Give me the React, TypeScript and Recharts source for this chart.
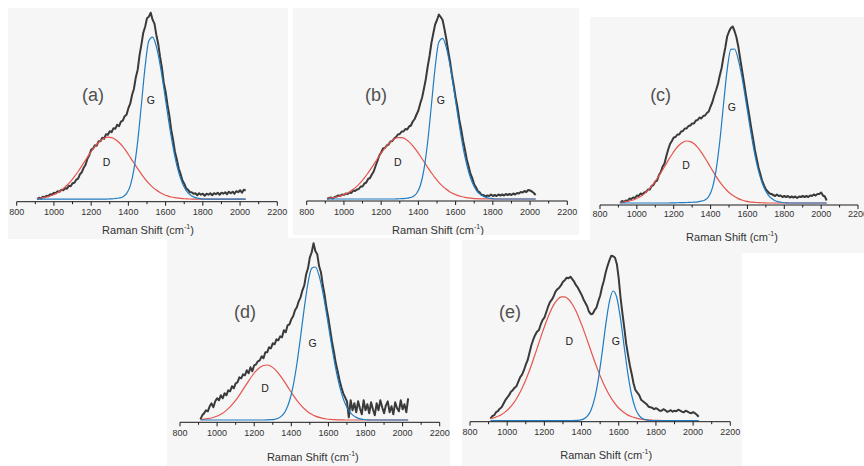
import React from 'react';
import { ComposedChart, Line, XAxis, YAxis, ReferenceDot } from 'recharts';

// Raman shift grid of the fitted bands (cm-1)
const RAMAN_SHIFT = [910,930,950,970,990,1010,1030,1050,1070,1090,1110,1130,1150,1170,1190,1210,1230,1250,1270,1290,1310,1330,1350,1370,1390,1410,1430,1450,1470,1490,1510,1530,1550,1570,1590,1610,1630,1650,1670,1690,1710,1730,1750,1770,1790,1810,1830,1850,1870,1890,1910,1930,1950,1970,1990,2010,2030];

// Raman shift grid of the measured spectra (cm-1)
const SPEC_SHIFT = [
  910,920,930,940,950,960,970,980,990,1000,
  1010,1020,1030,1040,1050,1060,1070,1080,1090,1100,
  1110,1120,1130,1140,1150,1160,1170,1180,1190,1200,
  1210,1220,1230,1240,1250,1260,1270,1280,1290,1300,
  1310,1320,1330,1340,1350,1360,1370,1380,1390,1400,
  1410,1420,1430,1440,1450,1460,1470,1480,1490,1500,
  1510,1520,1530,1540,1550,1560,1570,1580,1590,1600,
  1610,1620,1630,1640,1650,1660,1670,1680,1690,1700,
  1710,1720,1730,1740,1750,1760,1770,1780,1790,1800,
  1810,1820,1830,1840,1850,1860,1870,1880,1890,1900,
  1910,1920,1930,1940,1950,1960,1970,1980,1990,2000,
  2010,2020,2030];

const X_TICKS = [800,900,1000,1100,1200,1300,1400,1500,1600,1700,1800,1900,2000,2100,2200];
const PANEL_TAGS = ['(a)', '(b)', '(c)', '(d)', '(e)'];
const BAND_LABELS = ['D', 'G'];

// (a)
const SPEC_A = [
  2.5,4,3,5,4.5,6,5.5,7.5,7,9,
  8.5,10.5,10,12,11.5,13.5,13,16,15.5,18.5,
  19,22,23,27.5,29.5,34,37,43,46.5,52,
  53,56.5,56,60.5,60.5,64,63,67.5,67,70.5,
  69.5,73.5,73,77,75.5,80,81,85.5,87,93.5,
  98,107,113,124.5,132,146.5,157,169,175,183.5,
  185,189,182,178,167,158,145,134,119,110,
  97,86,72,62,50,42.5,33.5,28,21.5,18,
  13.5,12,9.5,9.5,8,8.5,6.5,8.5,7,8,
  6,8,7,8.5,6.5,8.5,7.5,9,7,9,
  8,9.5,7.5,10,8.5,10,8,10.5,9.5,11.5,
  9,12,11];
const FIT_D_A = [3.3,3.7,4.3,5.2,6.5,8.1,10.3,13,16.4,20.4, 25,30.2,35.8,41.5,47.3,52.6,57.2,60.9,63.4,64.5, 64.1,62.3,59.2,55,50,44.4,38.7,33,27.6,22.6, 18.3,14.6,11.6,9.1,7.2,5.8,4.7,4,3.5,3.1, 2.9,2.7,2.6,2.5,2.5,2.5,2.5,2.5,2.5,2.5, 2.5,2.5,2.5,2.5,2.5,2.5,2.5];
const FIT_G_A = [2.5,2.5,2.5,2.5,2.5,2.5,2.5,2.5,2.5,2.5, 2.5,2.5,2.5,2.5,2.5,2.5,2.5,2.5,2.5,2.7, 2.9,3.2,3.7,4.8,8,15.8,32.5,60.3,97.4,135.3, 160.9,164.6,155.3,137.4,114,88.8,65,44.9,29.4,18.5, 11.4,7.2,4.8,3.5,2.9,2.5,2.5,2.5,2.5,2.5, 2.5,2.5,2.5,2.5,2.5,2.5,2.5];

// (b)
const SPEC_B = [
  2,3,3.5,2.5,4,4.5,5.5,5,6.5,6,
  7.5,7,8.5,8,10.5,10,11.5,12,14.5,14.5,
  17.5,18.5,22,23,26.5,29.5,35,40,45.5,48.5,
  52.5,53,55.5,56.5,59.5,60,62.5,64,66.5,67,
  69.5,69.5,72,71.5,74.5,75.5,79.5,82,86.5,90.5,
  97.5,103.5,112.5,122,134.5,145,158,167.5,176.5,181,
  186.5,184,181,172,162,150,139.5,126.5,115.5,103.5,
  93.5,81,71.5,60.5,51.5,41.5,34.5,27,22.5,16.5,
  13.5,9.5,8.5,6,6,4.5,5.5,5,6.5,5,
  6,5,6.5,5.5,6.5,5.5,7,6,7,6,
  7.5,6.5,8,7.5,9,8.5,10,9,11,10.5,
  9.5,8,6];
const FIT_D_B = [2.7,3.1,3.6,4.5,5.6,7.1,9.1,11.7,14.9,18.7, 23.1,28.2,33.6,39.3,45,50.4,55.2,59.1,61.9,63.3, 63.3,61.9,59.1,55.2,50.4,45,39.3,33.6,28.2,23.1, 18.7,14.9,11.7,9.1,7.1,5.6,4.5,3.6,3.1,2.7, 2.4,2.2,2.1,2,2,2,2,2,2,2, 2,2,2,2,2,2,2];
const FIT_G_B = [2,2,2,2,2,2,2,2,2,2, 2,2,2,2,2,2,2,2,2,2.2, 2.4,2.7,3.2,4.3,7.5,15.2,31.7,59.3,96,133.6, 158.9,162.6,153.4,135.7,112.6,87.6,64.1,44.3,29,18.2, 11.2,7,4.6,3.2,2.6,2,2,2,2,2, 2,2,2,2,2,2,2];

// (c)
const SPEC_C = [
  2,4,3,4.5,4,6.5,6,7.5,7,9.5,
  9,11.5,10.5,12.5,13,15.5,15.5,19,20,23.5,
  24.5,30,33,38.5,41.5,49,55.5,61,64,67.5,
  68,70.5,70.5,73.5,74,76.5,76.5,79,79.5,81.5,
  81.5,84.5,85,87.5,86.5,89,89.5,92,93.5,98.5,
  103,109.5,115,121,129.5,137,148,157.5,168.5,173.5,
  177,178.5,174,168,159,147,135.5,124,112,100.5,
  89.5,77.5,67,55.5,46.5,37.5,31,24,19.5,15.5,
  13.5,11.5,11,10,9,10.5,9,9.5,8,9,
  8,9,7.5,8.5,7.5,8.5,7,8.5,8,9,
  8,9,8,9.5,9,10.5,9.5,11,11,12.5,
  9.5,8.5,4.5];
const FIT_D_C = [2.6,3,3.6,4.5,5.8,7.5,9.8,12.9,16.6,21.1, 26.4,32.2,38.3,44.6,50.5,55.8,60,62.8,64,63.4, 61.3,57.6,52.7,47,40.9,34.6,28.6,23.1,18.3,14.3, 11,8.4,6.4,5,3.9,3.2,2.8,2.5,2.3,2.1, 2,2,2,2,2,2,2,2,2,2, 2,2,2,2,2,2,2];
const FIT_G_C = [2,2,2,2,2,2,2,2,2,2, 2,2,2,2,2.1,2.2,2.3,2.4,2.5,2.7, 2.9,3.2,3.8,5,8.5,17.1,35.1,63.7,100.2,135.1, 155.7,156,145.7,128,105.9,82.4,60.4,41.9,27.6,17.4, 10.7,6.7,4.3,3.1,2.5,2.2,2,2,2,2, 2,2,2,2,2,2,2];

// (d)
const SPEC_D = [
  3,7,9,12,11,16,19,15,21,24,
  22,27,24,29,27,32,31,36,34,39,
  40,45,44,48,47,52,49,55,51,57,
  58,61,62,66,64,70,70,75,74,79,
  78,83,82,86,85,92,90,97,98,103,
  106,112,115,121,125,132,137,148,154,165,
  170,179,171,168,156,150,137,127,114,104,
  92,80,70,59,51,42,35,29,25,21,
  5,22,12,19,10,21,14,8,22,12,
  18,9,20,13,7,19,12,22,15,9,
  17,21,10,16,8,20,14,11,22,13,
  18,10,24];
const FIT_D_D = [2.8,3.1,3.6,4.3,5.5,7,9.1,11.9,15.4,19.6, 24.5,29.9,35.7,41.4,46.8,51.4,54.8,56.8,57.3,56, 53.2,49.2,44.1,38.6,32.8,27.1,22,17.4,13.5,10.4, 8,6.2,4.9,3.9,3.3,2.9,2.7,2.5,2.4,2.3, 2.3,2.3,2.3,2.3,2.3,2.3,2.3,2.3,2.3,2.3, 2.3,2.3,2.3,2.3,2.3,2.3,2.3];
const FIT_G_D = [2.3,2.3,2.3,2.3,2.3,2.3,2.3,2.3,2.3,2.3, 2.3,2.3,2.3,2.3,2.3,2.3,2.3,2.3,2.4,2.6, 3,4.1,6.6,11.8,21.3,36.5,58.3,85.5,114.4,139.3, 154,155.3,146.5,130,108.5,85.2,63.1,44.3,29.5,18.8, 11.8,7.4,4.9,3.5,2.8,2.5,2.3,2.3,2.3,2.3, 2.3,2.3,2.3,2.3,2.3,2.3,2.3];

// (e)
const SPEC_E = [
  3,5.5,6.5,9.5,10.5,13,14.5,18,21.5,24,
  26.5,30,31.5,34,35.5,40,44.5,47,51.5,57,
  61.5,69,76.5,82,86.5,90,91.5,97,101.5,104,
  109.5,115,119.5,122,125.5,130,132.5,134,136.5,140,
  141.5,144,143.5,145,142.5,140,136.5,134,130.5,127,
  122.5,119,115.5,110,107.5,108,111.5,114,120.5,126,
  134.5,141,149.5,156,161.5,166,165.5,164,157.5,143,
  123.5,108,93.5,78,66.5,56,47.5,38,31.5,29,
  26.5,22,20.5,19,17.5,15,14.5,14,12.5,13.5,
  12.5,11,11,12.5,11.5,10,10.5,11.5,10,11,
  10.5,12,11,10,9.5,11,10,9,8.5,9.5,
  8.5,7,5];
const FIT_D_E = [3.1,4,5.4,7.3,9.8,13.2,17.5,23,29.6,37.5, 46.5,56.5,67.3,78.5,89.6,100,109.3,116.8,122.1,124.8, 124.9,122.4,117.5,110.6,102,92.3,81.8,71,60.5,50.6, 41.5,33.4,26.4,20.5,15.7,11.9,8.9,6.6,5,3.8, 2.9,2.3,1.9,1.6,1.4,1.3,1.2,1.2,1.2,1.2, 1.2,1.2,1.2,1.2,1.2,1.2,1.2];
const FIT_G_E = [1.2,1.2,1.2,1.2,1.2,1.2,1.2,1.2,1.2,1.2, 1.2,1.2,1.2,1.2,1.2,1.2,1.2,1.2,1.2,1.2, 1.2,1.2,1.2,1.3,1.6,2.6,5.3,11.3,23,42.1, 68.2,96.9,120.3,130.7,123.7,102.3,73.9,46.8,26.2,13.1, 6.1,3,1.8,1.4,1.2,1.2,1.2,1.2,1.2,1.2, 1.2,1.2,1.2,1.2,1.2,1.2,1.2];

const FONT = '"Liberation Sans", Arial, Helvetica, sans-serif';
const BG = '#f6f6f6';

type Cfg = {
  tag: string;
  spec: number[]; d: number[]; g: number[];
  box: { left: number; top: number; width: number; height: number };
  margin: { top: number; left: number; right: number; bottom: number };
  axisH: number; yMax: number; tickDy: number; titleDy: number; titleDx: number;
  tagPos: [number, number]; dPos: [number, number]; gPos: [number, number];
};

const PANELS: Cfg[] = [
  { tag: PANEL_TAGS[0], spec: SPEC_A, d: FIT_D_A, g: FIT_G_A,
    box: { left: 8, top: 8, width: 280, height: 231 }, margin: { top: 2, left: 8.7, right: 10.7, bottom: 0 },
    axisH: 37.3, yMax: 191.7, tickDy: 10.5, titleDy: 28.3, titleDx: 1,
    tagPos: [1210, 106.7], gPos: [1520, 101.7], dPos: [1283, 39.7] },
  { tag: PANEL_TAGS[1], spec: SPEC_B, d: FIT_D_B, g: FIT_G_B,
    box: { left: 293, top: 8, width: 286, height: 227 }, margin: { top: 2, left: 13.7, right: 11.7, bottom: 0 },
    axisH: 34, yMax: 191, tickDy: 11, titleDy: 29, titleDx: 1,
    tagPos: [1172, 106], gPos: [1520, 101], dPos: [1290, 38.3] },
  { tag: PANEL_TAGS[2], spec: SPEC_C, d: FIT_D_C, g: FIT_G_C,
    box: { left: 590, top: 17, width: 274, height: 236 }, margin: { top: 2, left: 10, right: 6, bottom: 0 },
    axisH: 48, yMax: 186, tickDy: 8.5, titleDy: 31.7, titleDx: 3,
    tagPos: [1129, 110], gPos: [1516, 98], dPos: [1267, 40] },
  { tag: PANEL_TAGS[3], spec: SPEC_D, d: FIT_D_D, g: FIT_G_D,
    box: { left: 167, top: 238, width: 283, height: 228 }, margin: { top: 2, left: 13, right: 10.3, bottom: 0 },
    axisH: 43.7, yMax: 182.3, tickDy: 11, titleDy: 35, titleDx: 3,
    tagPos: [1150, 110.6], gPos: [1515, 79], dPos: [1258, 34.3] },
  { tag: PANEL_TAGS[4], spec: SPEC_E, d: FIT_D_E, g: FIT_G_E,
    box: { left: 462, top: 240, width: 280, height: 226 }, margin: { top: 2, left: 8, right: 11.7, bottom: 0 },
    axisH: 44.3, yMax: 179.7, tickDy: 10.7, titleDy: 33.3, titleDx: 6,
    tagPos: [1015, 110], gPos: [1584, 80], dPos: [1334, 80] },
];

const makeTick = (labelDy: number) => (props: any) => {
  const { x, y, payload } = props;
  const v = payload.value as number;
  const major = v % 200 === 0;
  return (
    <g>
      <line x1={x} y1={y} x2={x} y2={y + (major ? 4 : 2.5)} stroke="#1a1a1a" strokeWidth={1} />
      {major && (
        <text x={x} y={y + labelDy} textAnchor="middle" dominantBaseline="central"
          fontSize={9} fill="#333" fontFamily={FONT}>{v}</text>
      )}
    </g>
  );
};

const makeTitle = (dx: number, dy: number) => (lp: any) => {
  const vb = lp && lp.viewBox;
  if (!vb) return null;
  return (
    <text x={vb.x + vb.width / 2 + dx} y={vb.y + dy} textAnchor="middle" dominantBaseline="central"
      fontSize={11} fill="#333" fontFamily={FONT}>
      Raman Shift (cm<tspan dy={-4} fontSize={7}>-1</tspan><tspan dy={4}>)</tspan>
    </text>
  );
};

function RamanPanel({ cfg }: { cfg: Cfg }) {
  const fitRows = RAMAN_SHIFT.map((x, i) => ({ x, D: cfg.d[i], G: cfg.g[i] }));
  const specRows = SPEC_SHIFT.map((x, i) => ({ x, spectrum: cfg.spec[i] }));
  return (
    <div style={{ position: 'absolute', left: cfg.box.left, top: cfg.box.top }}>
      <ComposedChart width={cfg.box.width} height={cfg.box.height} data={fitRows} margin={cfg.margin}>
        <XAxis dataKey="x" type="number" domain={[800, 2200]} ticks={X_TICKS} interval={0}
          allowDataOverflow height={cfg.axisH} tickSize={0} tickMargin={0} tickLine={false}
          axisLine={{ stroke: '#1a1a1a', strokeWidth: 1 }} tick={makeTick(cfg.tickDy)}
          label={{ content: makeTitle(cfg.titleDx, cfg.titleDy) }} />
        <YAxis hide type="number" domain={[0, cfg.yMax]} allowDataOverflow />
        <Line data={specRows} dataKey="spectrum" type="linear" stroke="#3a3a3a" strokeWidth={2}
          strokeLinejoin="round" dot={false} isAnimationActive={false} />
        <Line dataKey="D" type="monotone" stroke="#e4554e" strokeWidth={1.2} dot={false}
          isAnimationActive={false} />
        <Line dataKey="G" type="monotone" stroke="#1f7cc3" strokeWidth={1.2} dot={false}
          isAnimationActive={false} />
        <ReferenceDot x={cfg.tagPos[0]} y={cfg.tagPos[1]} r={0} fill="none" stroke="none"
          label={{ value: cfg.tag, position: 'center', fontSize: 18, fill: '#505050', fontFamily: FONT }} />
        <ReferenceDot x={cfg.dPos[0]} y={cfg.dPos[1]} r={0} fill="none" stroke="none"
          label={{ value: BAND_LABELS[0], position: 'center', fontSize: 10.5, fill: '#222', fontFamily: FONT }} />
        <ReferenceDot x={cfg.gPos[0]} y={cfg.gPos[1]} r={0} fill="none" stroke="none"
          label={{ value: BAND_LABELS[1], position: 'center', fontSize: 10.5, fill: '#222', fontFamily: FONT }} />
      </ComposedChart>
    </div>
  );
}

export default function App() {
  return (
    <div style={{ position: 'fixed', left: 0, top: 0, width: 864, height: 466, background: '#fff', overflow: 'hidden' }}>
      {PANELS.map((p) => (
        <div key={'bg' + p.tag} style={{ position: 'absolute', left: p.box.left, top: p.box.top,
          width: p.box.width, height: p.box.height, background: BG }} />
      ))}
      {PANELS.map((p) => <RamanPanel key={p.tag} cfg={p} />)}
    </div>
  );
}
